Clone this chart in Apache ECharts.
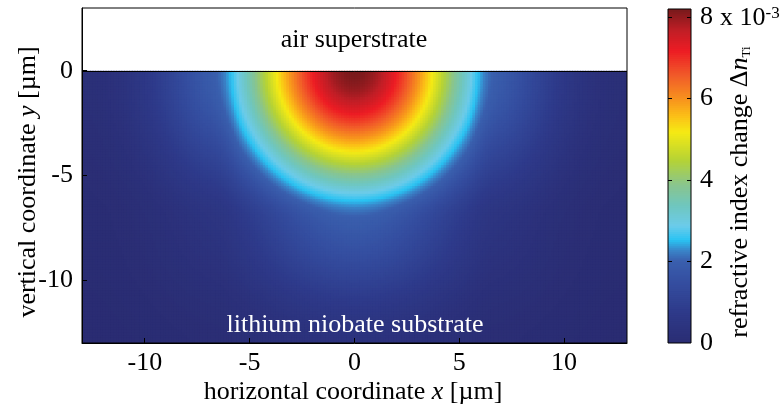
<!DOCTYPE html>
<html>
<head>
<meta charset="utf-8">
<script src="https://cdn.jsdelivr.net/npm/echarts@6/dist/echarts.min.js"></script>
<style>
  html, body { margin: 0; padding: 0; background: #ffffff; }
  #chart { width: 783px; height: 414px; }
</style>
</head>
<body>
<div id="chart"></div>
<script>
// Ti-indiffused channel in lithium niobate: refractive index change Δn_Ti (units of 1e-3)

// Cell pitch of the field grid (µm); cells tile x ∈ [-13, 13], y ∈ [-13, 0]
const CELL = 0.125;

// Δn_Ti along the surface (y = 0), cell centres x = -12.9375 … 12.9375 µm, in 1e-3
const surfaceProfile = [
  0.17, 0.18, 0.19, 0.20, 0.21, 0.22, 0.23, 0.24, 0.26, 0.27, 0.29, 0.31, 0.33,
  0.35, 0.37, 0.40, 0.42, 0.45, 0.48, 0.51, 0.55, 0.58, 0.62, 0.66, 0.70, 0.74,
  0.79, 0.84, 0.89, 0.94, 0.99, 1.05, 1.10, 1.16, 1.21, 1.27, 1.33, 1.38, 1.44,
  1.49, 1.55, 1.60, 1.65, 1.70, 1.74, 1.79, 1.84, 1.88, 1.90, 1.94, 1.99, 2.05,
  2.11, 2.19, 2.28, 2.39, 2.51, 2.64, 2.78, 2.93, 3.09, 3.23, 3.37, 3.52, 3.66,
  3.81, 3.96, 4.12, 4.27, 4.43, 4.59, 4.75, 4.91, 5.07, 5.23, 5.39, 5.55, 5.70,
  5.86, 6.01, 6.16, 6.31, 6.46, 6.60, 6.74, 6.87, 7.00, 7.12, 7.24, 7.36, 7.46,
  7.56, 7.66, 7.75, 7.83, 7.90, 7.97, 8.02, 8.07, 8.11, 8.15, 8.17, 8.19, 8.20,
  8.20, 8.19, 8.17, 8.15, 8.11, 8.07, 8.02, 7.97, 7.90, 7.83, 7.75, 7.66, 7.56,
  7.46, 7.36, 7.24, 7.12, 7.00, 6.87, 6.74, 6.60, 6.46, 6.31, 6.16, 6.01, 5.86,
  5.70, 5.55, 5.39, 5.23, 5.07, 4.91, 4.75, 4.59, 4.43, 4.27, 4.12, 3.96, 3.81,
  3.66, 3.52, 3.37, 3.23, 3.09, 2.93, 2.78, 2.64, 2.51, 2.39, 2.28, 2.19, 2.11,
  2.05, 1.99, 1.94, 1.90, 1.88, 1.84, 1.79, 1.74, 1.70, 1.65, 1.60, 1.55, 1.49,
  1.44, 1.38, 1.33, 1.27, 1.21, 1.16, 1.10, 1.05, 0.99, 0.94, 0.89, 0.84, 0.79,
  0.74, 0.70, 0.66, 0.62, 0.58, 0.55, 0.51, 0.48, 0.45, 0.42, 0.40, 0.37, 0.35,
  0.33, 0.31, 0.29, 0.27, 0.26, 0.24, 0.23, 0.22, 0.21, 0.20, 0.19, 0.18, 0.17
];

// Relative decay of Δn_Ti with depth, cell centres y = -0.0625 … -12.9375 µm
const depthProfile = [
  1.000, 0.999, 0.997, 0.994, 0.990, 0.986, 0.980, 0.974, 0.966, 0.958, 0.949,
  0.939, 0.929, 0.917, 0.905, 0.893, 0.879, 0.865, 0.851, 0.836, 0.820, 0.804,
  0.787, 0.770, 0.753, 0.735, 0.718, 0.700, 0.681, 0.663, 0.644, 0.626, 0.607,
  0.588, 0.570, 0.551, 0.533, 0.514, 0.496, 0.478, 0.461, 0.443, 0.426, 0.409,
  0.392, 0.376, 0.360, 0.344, 0.329, 0.314, 0.300, 0.287, 0.276, 0.266, 0.258,
  0.251, 0.245, 0.240, 0.236, 0.232, 0.228, 0.224, 0.220, 0.216, 0.212, 0.208,
  0.204, 0.200, 0.196, 0.192, 0.187, 0.182, 0.177, 0.172, 0.167, 0.162, 0.157,
  0.152, 0.147, 0.141, 0.136, 0.130, 0.125, 0.120, 0.115, 0.110, 0.105, 0.100,
  0.095, 0.091, 0.086, 0.082, 0.078, 0.074, 0.070, 0.067, 0.063, 0.060, 0.057,
  0.054, 0.052, 0.049, 0.047, 0.045
];

// Axis tick labels
const xTicks = [-10, -5, 0, 5, 10];
const yTicks = [-10, -5, 0];
const cbarTicks = [0, 2, 4, 6, 8];
const DN_MAX = 8.2;

// Colour scale (value in 1e-3 → colour)
const colorStops = [
  [0.0, '#2a2c72'], [0.8, '#2e3a8a'], [1.6, '#3550a2'], [2.05, '#3a60ae'],
  [2.3, '#3a86ca'], [2.55, '#29c3f2'], [2.9, '#6ccbea'], [3.4, '#6fc6be'],
  [3.9, '#89c58e'], [4.5, '#b4d236'], [5.2, '#f5ea14'], [5.6, '#fbbf17'],
  [6.0, '#f7941d'], [6.6, '#f15a29'], [7.2, '#ed1c24'], [7.7, '#c01e26'],
  [8.2, '#7a1a1c']
];

function hexToRgb(h) {
  return [parseInt(h.slice(1, 3), 16), parseInt(h.slice(3, 5), 16), parseInt(h.slice(5, 7), 16)];
}
function colorAt(v) {
  for (let k = 1; k < colorStops.length; k++) {
    const [v1, c1] = colorStops[k];
    const [v0, c0] = colorStops[k - 1];
    if (v <= v1) {
      const t = (v - v0) / (v1 - v0);
      const a = hexToRgb(c0), b = hexToRgb(c1);
      return 'rgb(' + a.map((x, i) => Math.round(x + (b[i] - x) * t)).join(',') + ')';
    }
  }
  return colorStops[colorStops.length - 1][1];
}
const palette = [];
for (let k = 0; k <= 164; k++) palette.push(colorAt(k * DN_MAX / 164));

// Cell centres
const xCenters = surfaceProfile.map((_, i) => -13 + CELL / 2 + i * CELL);
const yCenters = depthProfile.map((_, j) => -CELL / 2 - j * CELL);

// Field Δn(x, y) = surface value × depth decay
const field = [];
xCenters.forEach((x, i) => {
  yCenters.forEach((y, j) => {
    field.push([x, y, +(surfaceProfile[i] * depthProfile[j]).toFixed(4)]);
  });
});

// Colour-bar strip: levels spanning the colour scale
const BAR_STEP = 0.05;
const barLevels = [];
for (let k = 0; k < Math.round(DN_MAX / BAR_STEP); k++) barLevels.push([0.5, BAR_STEP / 2 + k * BAR_STEP, BAR_STEP / 2 + k * BAR_STEP]);

const FONT = '"Liberation Serif", "Times New Roman", serif';
const FS = 26;

// Filled cell between data-space corners; neighbours overlap by one pixel to hide seams
function cellRenderer(halfW, halfH) {
  return function (params, api) {
    const x = api.value(0), y = api.value(1);
    const p0 = api.coord([x - halfW, y + halfH]);
    const p1 = api.coord([x + halfW, y - halfH]);
    return {
      type: 'rect',
      shape: { x: p0[0], y: p0[1], width: p1[0] - p0[0] + 1, height: p1[1] - p0[1] + 1 },
      style: { fill: api.visual('color') }
    };
  };
}

// Axes and frames live on an upper canvas layer, above the filled cells
const TOP = 1;

const chart = echarts.init(document.getElementById('chart'), null, { renderer: 'canvas' });

const plainAxis = {
  axisTick: { show: false },
  splitLine: { show: false }
};

chart.setOption({
  animation: false,
  backgroundColor: '#ffffff',
  textStyle: { fontFamily: FONT },
  grid: [
    { left: 82, top: 8, width: 545, height: 335, show: true, borderColor: '#000', borderWidth: 1,
      backgroundColor: 'transparent', zlevel: TOP },
    { left: 668, top: 9, width: 23, height: 334, show: true, borderColor: '#000', borderWidth: 1,
      backgroundColor: 'transparent', zlevel: TOP }
  ],
  xAxis: [
    Object.assign({ gridIndex: 0, type: 'value', min: -13, max: 13, zlevel: TOP,
      axisLine: { show: true, onZero: false, lineStyle: { color: '#000', width: 1 } },
      axisLabel: { show: true, customValues: xTicks, fontSize: FS, fontFamily: FONT, color: '#000', margin: 7 } }, plainAxis),
    { gridIndex: 1, type: 'value', min: 0, max: 1, show: false }
  ],
  yAxis: [
    Object.assign({ gridIndex: 0, type: 'value', min: -13, max: 3, zlevel: TOP,
      axisLine: { show: true, onZero: false, lineStyle: { color: '#000', width: 1 } },
      axisLabel: { show: true, customValues: yTicks, fontSize: FS, fontFamily: FONT, color: '#000', margin: 9 } }, plainAxis),
    Object.assign({ gridIndex: 1, type: 'value', min: 0, max: DN_MAX, position: 'right', zlevel: TOP,
      axisLine: { show: false },
      axisLabel: { show: true, customValues: cbarTicks, fontSize: FS, fontFamily: FONT, color: '#000', margin: 9 } }, plainAxis)
  ],
  visualMap: {
    type: 'continuous',
    show: false,
    min: 0, max: DN_MAX,
    dimension: 2,
    seriesIndex: [0, 1],
    inRange: { color: palette }
  },
  series: [
    {
      type: 'custom',
      xAxisIndex: 0, yAxisIndex: 0,
      data: field,
      encode: { x: 0, y: 1 },
      silent: true,
      progressive: 0,
      clip: true,
      renderItem: cellRenderer(CELL / 2, CELL / 2),
      markLine: {
        silent: true,
        symbol: ['none', 'none'],
        label: { show: false },
        lineStyle: { color: '#000', width: 1, type: 'solid' },
        data: [{ yAxis: 0 }]
      }
    },
    {
      type: 'custom',
      xAxisIndex: 1, yAxisIndex: 1,
      data: barLevels,
      encode: { x: 0, y: 1 },
      silent: true,
      progressive: 0,
      clip: true,
      renderItem: cellRenderer(0.5, BAR_STEP / 2)
    }
  ]
});

// Inward tick marks, placed through the axes' own scales
const TICK_LEN = 5, CBAR_TICK_LEN = 4;
const tickStyle = { stroke: '#000', lineWidth: 1 };
const crisp = v => Math.round(v - 0.5) + 0.5;
const ticks = [];
const [, yBottom] = chart.convertToPixel({ gridIndex: 0 }, [0, -13]);
const [xLeft] = chart.convertToPixel({ gridIndex: 0 }, [-13, 0]);
xTicks.forEach(v => {
  const px = crisp(chart.convertToPixel({ xAxisIndex: 0 }, v));
  ticks.push({ type: 'line', zlevel: TOP, silent: true, style: tickStyle,
    shape: { x1: px, y1: yBottom, x2: px, y2: yBottom - TICK_LEN } });
});
yTicks.forEach(v => {
  const py = crisp(chart.convertToPixel({ yAxisIndex: 0 }, v));
  ticks.push({ type: 'line', zlevel: TOP, silent: true, style: tickStyle,
    shape: { x1: xLeft, y1: py, x2: xLeft + TICK_LEN, y2: py } });
});
const [barLeft] = chart.convertToPixel({ gridIndex: 1 }, [0, 0]);
const [barRight] = chart.convertToPixel({ gridIndex: 1 }, [1, 0]);
cbarTicks.filter(v => v > 0).forEach(v => {
  const py = crisp(chart.convertToPixel({ yAxisIndex: 1 }, v));
  ticks.push({ type: 'line', zlevel: TOP, silent: true, style: tickStyle,
    shape: { x1: barLeft, y1: py, x2: barLeft + CBAR_TICK_LEN, y2: py } });
  ticks.push({ type: 'line', zlevel: TOP, silent: true, style: tickStyle,
    shape: { x1: barRight, y1: py, x2: barRight - CBAR_TICK_LEN, y2: py } });
});

const texts = [
  { type: 'text', x: 354, y: 40, zlevel: TOP,
    style: { text: 'air superstrate', fill: '#000', font: FS + 'px ' + FONT, textAlign: 'center', textVerticalAlign: 'middle' } },
  { type: 'text', x: 355, y: 325, zlevel: TOP,
    style: { text: 'lithium niobate substrate', fill: '#fff', font: FS + 'px ' + FONT, textAlign: 'center', textVerticalAlign: 'middle' } },
  { type: 'text', x: 353, y: 392, zlevel: TOP,
    style: {
      text: '{a|horizontal coordinate }{i|x}{a| [µm]}',
      textAlign: 'center', textVerticalAlign: 'middle',
      rich: {
        a: { fontSize: FS, fontFamily: FONT, fill: '#000' },
        i: { fontSize: FS, fontFamily: FONT, fontStyle: 'italic', fill: '#000' }
      }
    } },
  { type: 'text', x: 28, y: 182, rotation: Math.PI / 2, zlevel: TOP,
    style: {
      text: '{a|vertical coordinate }{i|y}{a| [µm]}',
      textAlign: 'center', textVerticalAlign: 'middle',
      rich: {
        a: { fontSize: FS, fontFamily: FONT, fill: '#000' },
        i: { fontSize: FS, fontFamily: FONT, fontStyle: 'italic', fill: '#000' }
      }
    } },
  { type: 'text', x: 740, y: 192, rotation: Math.PI / 2, zlevel: TOP,
    style: {
      text: '{a|refractive index change Δ}{i|n}{s|Ti}',
      textAlign: 'center', textVerticalAlign: 'middle',
      rich: {
        a: { fontSize: FS, fontFamily: FONT, fill: '#000' },
        i: { fontSize: FS, fontFamily: FONT, fontStyle: 'italic', fill: '#000' },
        s: { fontSize: 13, fontFamily: FONT, fill: '#000', verticalAlign: 'bottom', padding: [10, 0, 0, 0] }
      }
    } },
  { type: 'text', x: 720, y: 18, zlevel: TOP,
    style: {
      text: '{a|x 10}{s|-3}',
      textAlign: 'left', textVerticalAlign: 'middle',
      rich: {
        a: { fontSize: FS, fontFamily: FONT, fill: '#000', verticalAlign: 'bottom' },
        s: { fontSize: 17, fontFamily: FONT, fill: '#000', verticalAlign: 'top' }
      }
    } }
];

chart.setOption({ graphic: { elements: ticks.concat(texts) } });
</script>
</body>
</html>
